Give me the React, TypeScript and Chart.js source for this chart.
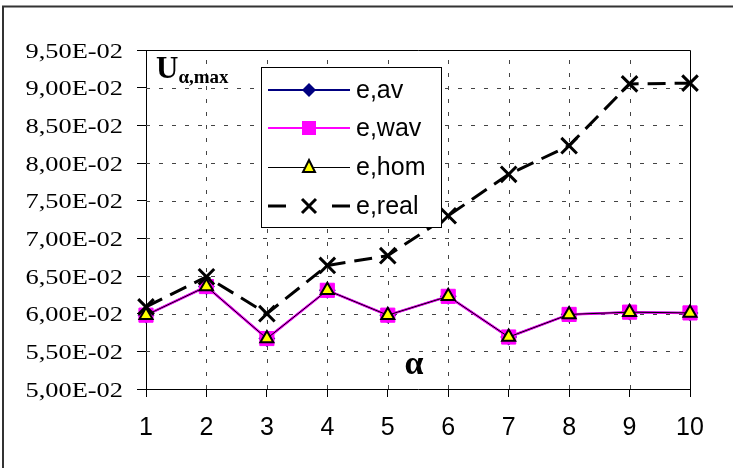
import React, { useEffect, useRef } from 'react';
import { Chart, registerables } from 'chart.js';

Chart.register(...registerables);

// Category axis: alpha index
const categories = ['1', '2', '3', '4', '5', '6', '7', '8', '9', '10'];

// Series values (U alpha, max)
const eAv = [0.0598, 0.0636, 0.0567, 0.0631, 0.0598, 0.0623, 0.0569, 0.0599, 0.0602, 0.0601];
const eWav = [0.0598, 0.0636, 0.0567, 0.0631, 0.0598, 0.0623, 0.0569, 0.0599, 0.0602, 0.0601];
const eHom = [0.0598, 0.0636, 0.0567, 0.0631, 0.0598, 0.0623, 0.0569, 0.0599, 0.0602, 0.0601];
const eReal = [0.0609, 0.0649, 0.0600, 0.0664, 0.0677, 0.0730, 0.0785, 0.0823, 0.0905, 0.0906];

// Value axis ticks and their labels
const yTicks = [0.05, 0.055, 0.06, 0.065, 0.07, 0.075, 0.08, 0.085, 0.09, 0.095];
const yTickLabels = [
  '5,00E-02', '5,50E-02', '6,00E-02', '6,50E-02', '7,00E-02',
  '7,50E-02', '8,00E-02', '8,50E-02', '9,00E-02', '9,50E-02',
];

const seriesNames = ['e,av', 'e,wav', 'e,hom', 'e,real'];

const SANS = "'Liberation Sans', Arial, sans-serif";
const SERIF = "'Liberation Serif', 'Times New Roman', serif";

// Frame, dashed grid, plot border, axis captions, wide serif value labels and the boxed legend
const decorations = {
  id: 'decorations',
  beforeDraw(chart: any) {
    const { ctx } = chart;
    ctx.save();
    ctx.fillStyle = '#fff';
    ctx.fillRect(0, 0, chart.width, chart.height);
    ctx.strokeStyle = '#333';
    ctx.lineWidth = 2;
    ctx.beginPath();
    ctx.moveTo(3, chart.height);
    ctx.lineTo(3, 6.5);
    ctx.lineTo(chart.width, 6.5);
    ctx.stroke();
    ctx.restore();
  },
  beforeDatasetsDraw(chart: any) {
    const { ctx, chartArea: a } = chart;
    const xs = chart.scales.x;
    const ys = chart.scales.y;
    ctx.save();
    ctx.strokeStyle = '#444';
    ctx.lineWidth = 1;
    ctx.setLineDash([4, 9]);
    for (let i = 1; i < categories.length - 1; i++) {
      const x = Math.round(xs.getPixelForValue(i)) + 0.5;
      ctx.beginPath();
      ctx.moveTo(x, a.bottom);
      ctx.lineTo(x, a.top);
      ctx.stroke();
    }
    for (let i = 1; i < yTicks.length - 1; i++) {
      const y = Math.round(ys.getPixelForValue(yTicks[i])) + 0.5;
      ctx.beginPath();
      ctx.moveTo(a.left, y);
      ctx.lineTo(a.right, y);
      ctx.stroke();
    }
    ctx.setLineDash([]);
    ctx.strokeStyle = '#000';
    ctx.beginPath();
    ctx.moveTo(a.left, Math.round(a.top) + 0.5);
    ctx.lineTo(Math.round(a.right) + 0.5, Math.round(a.top) + 0.5);
    ctx.lineTo(Math.round(a.right) + 0.5, a.bottom);
    ctx.stroke();

    // Value axis labels, set in a horizontally widened serif
    ctx.fillStyle = '#000';
    ctx.font = `22px ${SERIF}`;
    ctx.textAlign = 'right';
    ctx.textBaseline = 'alphabetic';
    const labelRight = a.left - 23;
    yTicks.forEach((v, i) => {
      const y = ys.getPixelForValue(v);
      ctx.save();
      ctx.translate(labelRight, y + 7.5);
      ctx.scale(1.2, 1);
      ctx.fillText(yTickLabels[i], 0, 0);
      ctx.restore();
    });

    // Axis captions
    ctx.textAlign = 'left';
    ctx.font = `bold 31px ${SERIF}`;
    ctx.fillText('U', 156, 78);
    const uw = ctx.measureText('U').width;
    ctx.font = `bold 19px ${SERIF}`;
    ctx.fillText('α,max', 156 + uw, 83);
    ctx.font = `bold 34px ${SERIF}`;
    ctx.textAlign = 'center';
    ctx.fillText('α', 414, 374);
    ctx.restore();
  },
  afterDatasetsDraw(chart: any) {
    const { ctx } = chart;
    ctx.save();
    ctx.fillStyle = '#fff';
    ctx.fillRect(261, 67, 180, 160);
    ctx.strokeStyle = '#000';
    ctx.lineWidth = 1;
    ctx.strokeRect(261.5, 67.5, 180, 160);

    const rows = [90, 128, 167, 206];
    const x0 = 268;
    const x1 = 350;
    const mx = 309;

    // e,av
    ctx.strokeStyle = '#000080';
    ctx.lineWidth = 2;
    ctx.beginPath();
    ctx.moveTo(x0, rows[0]);
    ctx.lineTo(x1, rows[0]);
    ctx.stroke();
    ctx.fillStyle = '#000080';
    ctx.beginPath();
    ctx.moveTo(mx, rows[0] - 7);
    ctx.lineTo(mx + 7, rows[0]);
    ctx.lineTo(mx, rows[0] + 7);
    ctx.lineTo(mx - 7, rows[0]);
    ctx.closePath();
    ctx.fill();

    // e,wav
    ctx.strokeStyle = '#ff00ff';
    ctx.lineWidth = 2;
    ctx.beginPath();
    ctx.moveTo(x0, rows[1]);
    ctx.lineTo(x1, rows[1]);
    ctx.stroke();
    ctx.fillStyle = '#ff00ff';
    ctx.fillRect(mx - 7, rows[1] - 7, 14, 14);

    // e,hom
    ctx.strokeStyle = '#000';
    ctx.lineWidth = 1;
    ctx.beginPath();
    ctx.moveTo(x0, rows[2] + 0.5);
    ctx.lineTo(x1, rows[2] + 0.5);
    ctx.stroke();
    ctx.fillStyle = '#ffff00';
    ctx.lineWidth = 2;
    ctx.beginPath();
    ctx.moveTo(mx, rows[2] - 7);
    ctx.lineTo(mx + 6, rows[2] + 5);
    ctx.lineTo(mx - 6, rows[2] + 5);
    ctx.closePath();
    ctx.fill();
    ctx.stroke();

    // e,real
    ctx.lineWidth = 3;
    ctx.beginPath();
    ctx.moveTo(x0, rows[3]);
    ctx.lineTo(x0 + 18, rows[3]);
    ctx.moveTo(x1 - 18, rows[3]);
    ctx.lineTo(x1, rows[3]);
    ctx.moveTo(mx - 7, rows[3] - 7);
    ctx.lineTo(mx + 7, rows[3] + 7);
    ctx.moveTo(mx + 7, rows[3] - 7);
    ctx.lineTo(mx - 7, rows[3] + 7);
    ctx.stroke();

    ctx.fillStyle = '#000';
    ctx.font = `25px ${SANS}`;
    ctx.textAlign = 'left';
    ctx.textBaseline = 'middle';
    seriesNames.forEach((name, i) => ctx.fillText(name, 356, rows[i] + 1));
    ctx.restore();
  },
};

export default function App() {
  const canvasRef = useRef<HTMLCanvasElement | null>(null);

  useEffect(() => {
    const canvas = canvasRef.current;
    if (!canvas) return;
    const chart = new Chart(canvas, {
      type: 'line',
      data: {
        labels: categories,
        datasets: [
          {
            label: seriesNames[3],
            data: eReal,
            borderColor: '#000',
            borderWidth: 3,
            borderDash: [18, 9],
            pointStyle: 'crossRot',
            pointRadius: 11,
            pointBorderWidth: 3,
            pointBorderColor: '#000',
            order: 0,
            clip: false,
            tension: 0,
          },
          {
            label: seriesNames[2],
            data: eHom,
            borderColor: '#000',
            borderWidth: 1,
            pointStyle: 'triangle',
            pointRadius: 7.5,
            pointBackgroundColor: '#ffff00',
            pointBorderColor: '#000',
            pointBorderWidth: 2,
            order: 1,
            clip: false,
            tension: 0,
          },
          {
            label: seriesNames[1],
            data: eWav,
            borderColor: '#ff00ff',
            borderWidth: 2.5,
            pointStyle: 'rect',
            pointRadius: 10,
            pointBackgroundColor: '#ff00ff',
            pointBorderColor: '#ff00ff',
            pointBorderWidth: 1,
            order: 2,
            clip: false,
            tension: 0,
          },
          {
            label: seriesNames[0],
            data: eAv,
            borderColor: '#000080',
            borderWidth: 2,
            pointStyle: 'rectRot',
            pointRadius: 7,
            pointBackgroundColor: '#000080',
            pointBorderColor: '#000080',
            order: 3,
            clip: false,
            tension: 0,
          },
        ],
      },
      options: {
        responsive: false,
        animation: false,
        events: [],
        layout: { padding: { left: 0, top: 50, right: 43, bottom: 0 } },
        plugins: {
          legend: { display: false },
          tooltip: { enabled: false },
        },
        scales: {
          x: {
            type: 'category',
            offset: false,
            grid: {
              drawOnChartArea: false,
              drawTicks: true,
              tickLength: 8,
              tickColor: '#000',
              color: '#000',
            },
            border: { color: '#000', width: 1 },
            ticks: {
              color: '#000',
              font: { family: SANS, size: 25 },
              padding: 16,
              maxRotation: 0,
              autoSkip: false,
            },
            afterFit(scale: any) {
              scale.height = 79;
            },
          },
          y: {
            type: 'linear',
            min: 0.05,
            max: 0.095,
            afterBuildTicks(scale: any) {
              scale.ticks = yTicks.map((v) => ({ value: v }));
            },
            grid: {
              drawOnChartArea: false,
              drawTicks: true,
              tickLength: 9,
              tickColor: '#000',
              color: '#000',
            },
            border: { color: '#000', width: 1 },
            ticks: {
              display: false,
              callback: (_v: any, i: number) => yTickLabels[i],
            },
            afterFit(scale: any) {
              scale.width = 146;
            },
          },
        },
      },
      plugins: [decorations],
    });
    return () => chart.destroy();
  }, []);

  return (
    <div style={{ position: 'fixed', left: 0, top: 0, width: 733, height: 468, background: '#fff' }}>
      <canvas ref={canvasRef} width={733} height={468} style={{ display: 'block', width: 733, height: 468 }} />
    </div>
  );
}
